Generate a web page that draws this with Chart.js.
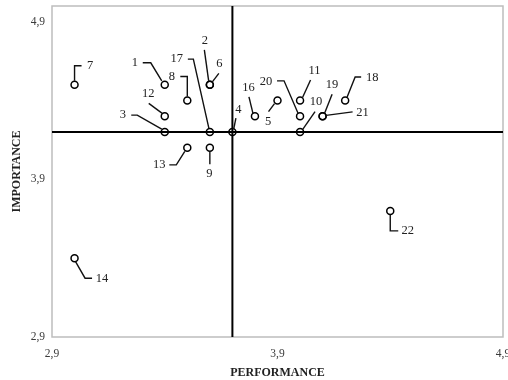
<!DOCTYPE html>
<html>
<head>
<meta charset="utf-8">
<script src="https://cdn.jsdelivr.net/npm/chart.js@4"></script>
<style>
  html, body { margin: 0; padding: 0; background: #fff; overflow: hidden; }
  #wrap { width: 508px; height: 380px; }
</style>
</head>
<body>
<div id="wrap"><canvas id="ipa" width="508" height="380"></canvas></div>
<script>
// attribute numbers and their scores
const ids         = [1, 2, 3, 4, 5, 6, 7, 8, 9, 10, 11, 12, 13, 14, 16, 17, 18, 19, 20, 21, 22];
const performance = [3.4, 3.6, 3.4, 3.7, 3.9, 3.6, 3.0, 3.5, 3.6, 4.0, 4.0, 3.4, 3.5, 3.0, 3.8, 3.6, 4.2, 4.1, 4.0, 4.1, 4.4];
const importance  = [4.5, 4.5, 4.2, 4.2, 4.4, 4.5, 4.5, 4.4, 4.1, 4.2, 4.4, 4.3, 4.1, 3.4, 4.3, 4.2, 4.4, 4.3, 4.3, 4.3, 3.7];

// quadrant split (means)
const meanPerformance = 3.7;
const meanImportance = 4.2;

// axes
const xRange = [2.9, 4.9];
const yRange = [2.9, 5.0];
const xTicks = [2.9, 3.9, 4.9];
const yTicks = [2.9, 3.9, 4.9];

// leader lines: offsets in px from the point, and where the number sits
const callouts = {
    1:  { path: [[-22, -22], [-14, -22], [-3, -4]], text: [-30, -22] },
    2:  { path: [[-5.5, -35], [-1.2, -4]], text: [-5, -44] },
    3:  { path: [[-33.5, -17], [-27.5, -17], [-3, -3]], text: [-42, -17] },
    4:  { path: [[3.5, -14], [1.3, -3]], text: [6, -22] },
    5:  { path: [[-9, 11], [-3, 3]], text: [-9.5, 21.5] },
    6:  { path: [[9, -11.5], [2.5, -3]], text: [9.5, -21.5] },
    7:  { path: [[0, -4], [0, -19], [7, -19]], text: [15.5, -19.5] },
    8:  { path: [[-7, -24], [0, -24], [0, -4]], text: [-15.5, -24] },
    9:  { path: [[0, 3.5], [0, 16.5]], text: [-0.5, 26] },
    10: { path: [[15, -20.5], [2.5, -2.5]], text: [16, -30.5] },
    11: { path: [[10.5, -20.5], [2.5, -3]], text: [14.5, -29.5] },
    12: { path: [[-16, -13], [-2.5, -3]], text: [-16.5, -23] },
    13: { path: [[-18, 17], [-11, 17], [-2.5, 3.5]], text: [-28, 17] },
    14: { path: [[1, 3.5], [10.5, 20], [17.5, 20]], text: [27.5, 21] },
    16: { path: [[-6, -19.5], [-2, -3]], text: [-6.5, -29] },
    17: { path: [[-22, -73], [-16.5, -73], [-1, -4]], text: [-33, -73] },
    18: { path: [[16, -23.5], [10, -23.5], [2, -3.5]], text: [27, -23] },
    19: { path: [[9.5, -22], [2, -3]], text: [9.5, -32] },
    20: { path: [[-23, -35.5], [-16, -35.5], [-2, -3]], text: [-34, -34.5] },
    21: { path: [[30, -4.5], [3.5, -1]], text: [40, -4] },
    22: { path: [[0, 3.5], [0, 20], [8, 20]], text: [17.5, 20] }
};

const serif = '"Liberation Serif", "Times New Roman", serif';
const fmt = v => Number(v).toFixed(1).replace('.', ',');

const points = ids.map((id, i) => ({ x: performance[i], y: importance[i], id: id }));

// grey frame round the plot
const framePlugin = {
    id: 'frame',
    beforeDatasetsDraw(chart) {
        const { ctx, chartArea: a } = chart;
        ctx.save();
        ctx.strokeStyle = '#bdbdbd';
        ctx.lineWidth = 1.5;
        ctx.strokeRect(a.left, a.top, a.right - a.left, a.bottom - a.top);
        ctx.restore();
    }
};

// numbered callouts with their leader lines
const calloutPlugin = {
    id: 'callouts',
    afterDatasetsDraw(chart) {
        const { ctx, scales } = chart;
        ctx.save();
        ctx.strokeStyle = '#111';
        ctx.lineWidth = 1.4;
        ctx.fillStyle = '#222';
        ctx.font = '12.5px ' + serif;
        ctx.textAlign = 'center';
        ctx.textBaseline = 'middle';
        points.forEach(p => {
            const c = callouts[p.id];
            if (!c) return;
            const px = scales.x.getPixelForValue(p.x);
            const py = scales.y.getPixelForValue(p.y);
            ctx.beginPath();
            c.path.forEach((o, k) => {
                if (k === 0) ctx.moveTo(px + o[0], py + o[1]);
                else ctx.lineTo(px + o[0], py + o[1]);
            });
            ctx.stroke();
            ctx.fillText(String(p.id), px + c.text[0], py + c.text[1]);
        });
        ctx.restore();
    }
};

new Chart(document.getElementById('ipa'), {
    type: 'scatter',
    data: {
        datasets: [
            {
                data: points,
                pointRadius: 3.5,
                pointHoverRadius: 3.5,
                pointBorderWidth: 1.5,
                pointBorderColor: '#000',
                pointBackgroundColor: 'rgba(0,0,0,0)'
            },
            {
                type: 'line',
                data: [{ x: meanPerformance, y: yRange[0] }, { x: meanPerformance, y: yRange[1] }],
                borderColor: '#000',
                borderWidth: 2,
                pointRadius: 0
            },
            {
                type: 'line',
                data: [{ x: xRange[0], y: meanImportance }, { x: xRange[1], y: meanImportance }],
                borderColor: '#000',
                borderWidth: 2,
                pointRadius: 0
            }
        ]
    },
    options: {
        responsive: false,
        animation: false,
        layout: { padding: { top: 6, right: 3, left: 0, bottom: 0 } },
        plugins: {
            legend: { display: false },
            tooltip: { enabled: false }
        },
        scales: {
            x: {
                type: 'linear',
                min: xRange[0],
                max: xRange[1],
                grid: { display: false, drawTicks: false },
                border: { display: false },
                afterBuildTicks: s => { s.ticks = xTicks.map(v => ({ value: v })); },
                afterFit: s => { s.height = 43; s.paddingLeft = 0; s.paddingRight = 0; },
                ticks: {
                    padding: 10,
                    maxRotation: 0,
                    color: '#3a3a3a',
                    font: { family: serif, size: 11.5 },
                    callback: v => fmt(v)
                },
                title: {
                    display: true,
                    text: 'PERFORMANCE',
                    color: '#222',
                    font: { family: serif, size: 12, weight: 'bold' },
                    padding: { top: 0, bottom: 0 }
                }
            },
            y: {
                type: 'linear',
                min: yRange[0],
                max: yRange[1],
                grid: { display: false, drawTicks: false },
                border: { display: false },
                afterBuildTicks: s => { s.ticks = yTicks.map(v => ({ value: v })); },
                afterFit: s => { s.width = 52; s.paddingTop = 0; s.paddingBottom = 0; },
                ticks: {
                    padding: 7,
                    color: '#3a3a3a',
                    font: { family: serif, size: 11.5 },
                    callback: v => fmt(v)
                },
                title: {
                    display: true,
                    text: 'IMPORTANCE',
                    color: '#222',
                    font: { family: serif, size: 12, weight: 'bold' },
                    padding: { top: 10, bottom: 0 }
                }
            }
        }
    },
    plugins: [framePlugin, calloutPlugin]
});
</script>
</body>
</html>
